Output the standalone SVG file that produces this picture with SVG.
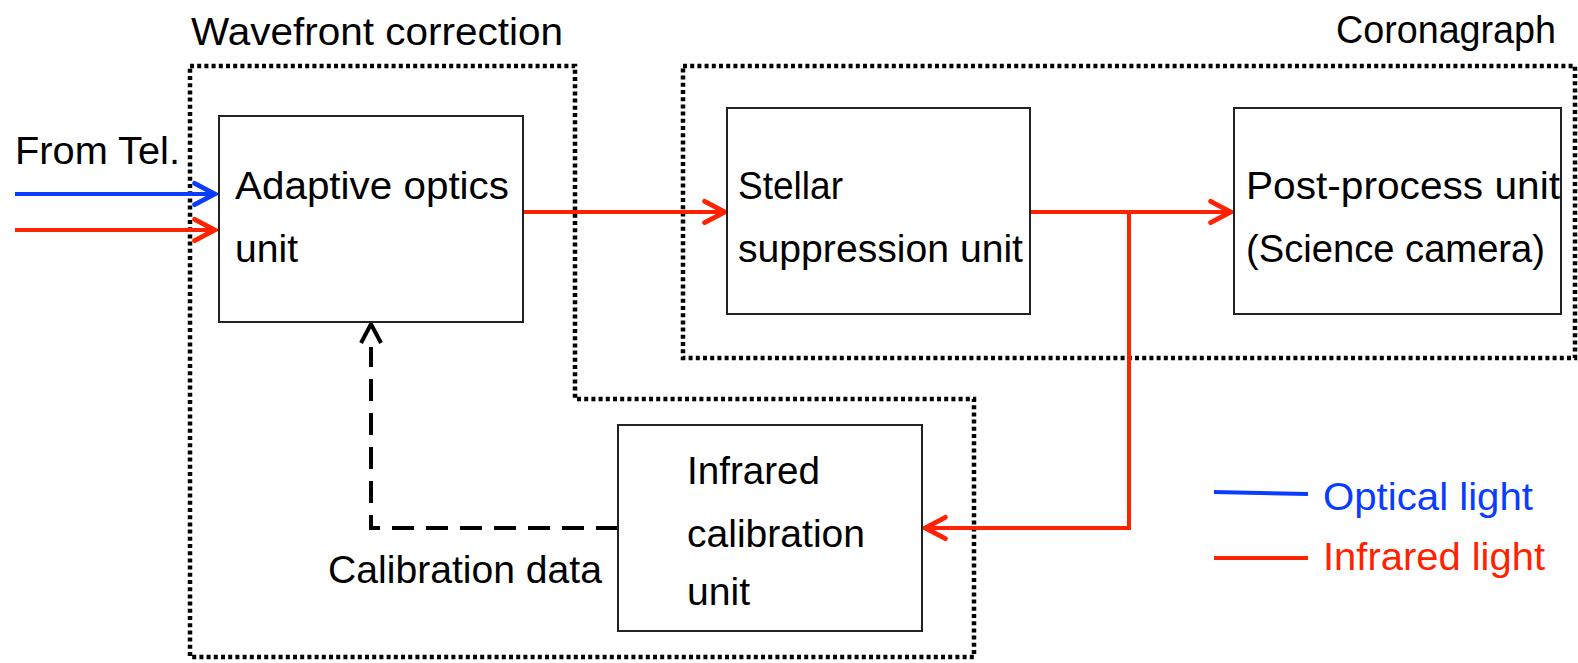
<svg xmlns="http://www.w3.org/2000/svg" width="1578" height="663" viewBox="0 0 1578 663">
<style>
text{font-family:"Liberation Sans",Arial,sans-serif;font-size:38px;fill:#000}
.box{fill:#fff;stroke:#222;stroke-width:2}
.group{fill:none;stroke:#000;stroke-width:4.5;stroke-dasharray:4 3.2}
.red{fill:none;stroke:#ff2200;stroke-width:4}
.blue{fill:none;stroke:#0a3cff;stroke-width:4}
.dash{fill:none;stroke:#000;stroke-width:4;stroke-dasharray:22 12}
</style>
<defs>
<marker id="ar" markerUnits="userSpaceOnUse" markerWidth="30" markerHeight="30" viewBox="-24 -14 28 28" refX="0" refY="0" orient="auto">
<path d="M-19,-10 L0,0 L-19,10" fill="none" stroke="#ff2200" stroke-width="4.5" stroke-linecap="round" stroke-linejoin="miter"/>
</marker>
<marker id="ab" markerUnits="userSpaceOnUse" markerWidth="30" markerHeight="30" viewBox="-24 -14 28 28" refX="0" refY="0" orient="auto">
<path d="M-19,-10 L0,0 L-19,10" fill="none" stroke="#0a3cff" stroke-width="4.5" stroke-linecap="round" stroke-linejoin="miter"/>
</marker>
</defs>
<rect width="1578" height="663" fill="#fff"/>

<g id="wavefront-group">
<path class="group" d="M190,66 L575,66 L575,399 L974,399 L974,657 L190,657 Z"/>
<text x="191" y="45" textLength="372" lengthAdjust="spacingAndGlyphs">Wavefront correction</text>
</g>
<g id="coronagraph-group">
<rect class="group" x="683" y="66" width="892" height="292"/>
<text x="1336" y="43" textLength="220" lengthAdjust="spacingAndGlyphs">Coronagraph</text>
</g>

<g id="from-tel">
<text x="15" y="164" textLength="165" lengthAdjust="spacingAndGlyphs">From Tel.</text>
</g>

<g id="connectors">
<line class="blue" x1="15" y1="194" x2="215" y2="194" marker-end="url(#ab)"/>
<line class="red" x1="15" y1="230" x2="215" y2="230" marker-end="url(#ar)"/>
<line class="red" x1="523" y1="212" x2="725" y2="212" marker-end="url(#ar)"/>
<line class="red" x1="1030" y1="212" x2="1231" y2="212" marker-end="url(#ar)"/>
<polyline class="red" points="1129,212 1129,528 925,528" marker-end="url(#ar)"/>
<polyline class="dash" points="618,528 371,528 371,347"/>
<path d="M361,343 L371,324 L381,343" fill="none" stroke="#000" stroke-width="4"/>
</g>

<g id="adaptive-optics">
<rect class="box" x="219" y="116" width="304" height="206"/>
<text x="235" y="199" textLength="274" lengthAdjust="spacingAndGlyphs">Adaptive optics</text>
<text x="235" y="262" textLength="63" lengthAdjust="spacingAndGlyphs">unit</text>
</g>
<g id="stellar-suppression">
<rect class="box" x="727" y="108" width="303" height="206"/>
<text x="738" y="199" textLength="105" lengthAdjust="spacingAndGlyphs">Stellar</text>
<text x="738" y="262" textLength="285" lengthAdjust="spacingAndGlyphs">suppression unit</text>
</g>
<g id="post-process">
<rect class="box" x="1234" y="108" width="327" height="206"/>
<text x="1246" y="199" textLength="314" lengthAdjust="spacingAndGlyphs">Post-process unit</text>
<text x="1246" y="262" textLength="299" lengthAdjust="spacingAndGlyphs">(Science camera)</text>
</g>
<g id="infrared-calibration">
<rect class="box" x="618" y="425" width="304" height="206"/>
<text x="687" y="484" textLength="133" lengthAdjust="spacingAndGlyphs">Infrared</text>
<text x="687" y="547" textLength="178" lengthAdjust="spacingAndGlyphs">calibration</text>
<text x="687" y="605" textLength="63" lengthAdjust="spacingAndGlyphs">unit</text>
</g>
<g id="calibration-data-label">
<text x="328" y="583" textLength="274" lengthAdjust="spacingAndGlyphs">Calibration data</text>
</g>

<g id="legend">
<line x1="1214" y1="492" x2="1308" y2="494" stroke="#0a3cff" stroke-width="4"/>
<text x="1323" y="510" textLength="210" lengthAdjust="spacingAndGlyphs" style="fill:#0a3cff">Optical light</text>
<line x1="1214" y1="558" x2="1308" y2="558" stroke="#ff2200" stroke-width="4"/>
<text x="1323" y="570" textLength="222" lengthAdjust="spacingAndGlyphs" style="fill:#ff2200">Infrared light</text>
</g>
</svg>
